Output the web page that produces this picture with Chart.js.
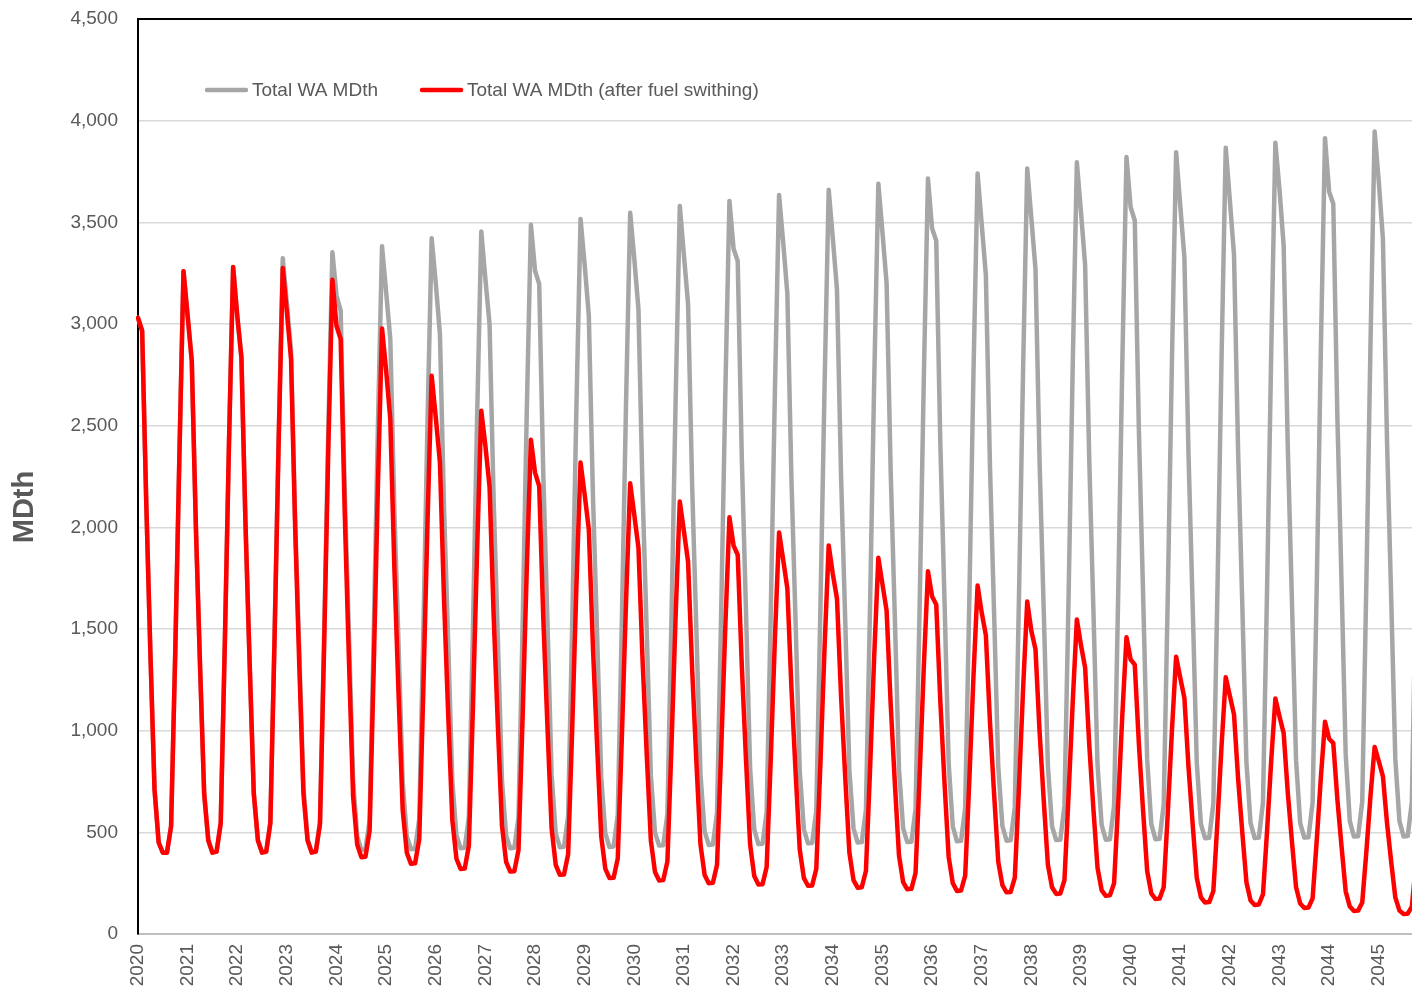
<!DOCTYPE html>
<html>
<head>
<meta charset="utf-8">
<title>Total WA MDth</title>
<script src="https://cdn.jsdelivr.net/npm/chart.js@4.4.1/dist/chart.umd.min.js"></script>
<style>
    html, body { margin: 0; padding: 0; background: #fff; overflow: hidden; }
    #wrap { position: relative; width: 1418px; height: 993px; }
</style>
</head>
<body>
<div id="wrap"><canvas id="mdthChart"></canvas></div>
<script>
// ── Data ──────────────────────────────────────────────────────────────

const years  = ['2020', '2021', '2022', '2023', '2024', '2025', '2026', '2027', '2028',
                '2029', '2030', '2031', '2032', '2033', '2034', '2035', '2036', '2037',
                '2038', '2039', '2040', '2041', '2042', '2043', '2044', '2045'];
const months = ['01', '02', '03', '04', '05', '06', '07', '08', '09', '10', '11', '12'];

const seriesNames = ['Total WA MDth', 'Total WA MDth (after fuel swithing)'];
const axisTitle   = 'MDth';
const yMax  = 4500;
const yStep = 500;

// monthly, Jan 2020 .. Oct 2045 (one row per year)
const totalWA = [
    3030, 2967, 2120, 1380, 710, 450, 400, 400, 530, 1380, 2345, 3260,
    3040, 2820, 2000, 1320, 690, 460, 400, 405, 545, 1435, 2415, 3280,
    3040, 2836, 2010, 1330, 690, 460, 402, 405, 550, 1455, 2445, 3323,
    3100, 2870, 2030, 1390, 725, 465, 405, 407, 550, 1465, 2470, 3353,
    3140, 3066, 2165, 1475, 760, 480, 414, 416, 560, 1480, 2490, 3382,
    3156, 2926, 2075, 1420, 745, 480, 417, 419, 565, 1500, 2520, 3422,
    3200, 2950, 2090, 1435, 750, 485, 422, 424, 575, 1515, 2545, 3455,
    3220, 3000, 2125, 1455, 755, 485, 422, 424, 575, 1525, 2570, 3488,
    3262, 3197, 2255, 1535, 785, 495, 427, 429, 580, 1540, 2590, 3517,
    3290, 3041, 2155, 1475, 770, 495, 428, 430, 585, 1550, 2610, 3547,
    3320, 3074, 2175, 1490, 780, 500, 435, 437, 590, 1565, 2635, 3580,
    3337, 3098, 2195, 1500, 785, 505, 438, 440, 595, 1580, 2655, 3605,
    3370, 3310, 2335, 1590, 815, 515, 442, 444, 600, 1590, 2675, 3635,
    3400, 3150, 2230, 1530, 800, 515, 446, 448, 605, 1605, 2695, 3660,
    3420, 3170, 2245, 1540, 805, 520, 450, 452, 610, 1615, 2720, 3690,
    3450, 3200, 2265, 1550, 810, 520, 452, 454, 615, 1625, 2735, 3715,
    3470, 3410, 2405, 1640, 840, 530, 456, 458, 620, 1640, 2755, 3740,
    3490, 3240, 2295, 1570, 820, 530, 459, 461, 625, 1650, 2775, 3765,
    3520, 3270, 2315, 1585, 825, 530, 462, 464, 630, 1660, 2795, 3795,
    3550, 3290, 2330, 1595, 830, 535, 464, 466, 630, 1675, 2815, 3821,
    3575, 3509, 2475, 1685, 860, 540, 466, 468, 635, 1680, 2830, 3845,
    3583, 3328, 2355, 1615, 840, 540, 471, 473, 640, 1695, 2850, 3867,
    3607, 3340, 2365, 1620, 845, 545, 472, 474, 645, 1705, 2865, 3892,
    3660, 3386, 2395, 1640, 855, 545, 474, 476, 645, 1710, 2880, 3914,
    3650, 3591, 2535, 1725, 885, 555, 479, 481, 650, 1730, 2905, 3947,
    3700, 3419, 2420, 1655, 860, 555, 480, 482, 650, 1750,
];

const afterSwitching = [
    3030, 2967, 2120, 1380, 710, 450, 400, 400, 530, 1380, 2345, 3260,
    3040, 2820, 2000, 1320, 690, 460, 400, 405, 545, 1435, 2415, 3280,
    3040, 2836, 2010, 1330, 690, 460, 400, 405, 545, 1435, 2410, 3275,
    3057, 2828, 2000, 1320, 690, 460, 400, 405, 540, 1415, 2375, 3218,
    2990, 2926, 2060, 1350, 680, 440, 378, 380, 508, 1314, 2200, 2978,
    2770, 2532, 1790, 1180, 610, 400, 345, 348, 465, 1210, 2025, 2746,
    2540, 2320, 1640, 1080, 560, 370, 320, 322, 435, 1130, 1895, 2573,
    2400, 2200, 1560, 1030, 535, 355, 307, 309, 413, 1070, 1795, 2431,
    2269, 2203, 1550, 1020, 520, 340, 291, 293, 392, 1020, 1710, 2319,
    2160, 1990, 1410, 930, 480, 320, 275, 277, 372, 975, 1635, 2217,
    2060, 1900, 1345, 885, 460, 305, 263, 265, 356, 935, 1570, 2127,
    1980, 1830, 1295, 850, 440, 290, 250, 252, 340, 900, 1510, 2049,
    1910, 1865, 1315, 860, 440, 285, 243, 245, 330, 865, 1455, 1975,
    1840, 1700, 1205, 795, 415, 275, 237, 239, 320, 840, 1410, 1911,
    1770, 1650, 1165, 770, 400, 265, 228, 230, 310, 810, 1365, 1850,
    1720, 1590, 1125, 740, 385, 255, 220, 222, 300, 785, 1315, 1784,
    1660, 1620, 1140, 745, 380, 250, 212, 214, 287, 755, 1265, 1714,
    1580, 1470, 1040, 685, 355, 240, 205, 207, 277, 720, 1205, 1635,
    1490, 1400, 990, 655, 340, 230, 197, 199, 265, 685, 1140, 1547,
    1420, 1310, 930, 615, 325, 215, 188, 190, 250, 645, 1080, 1460,
    1350, 1325, 935, 610, 310, 200, 172, 174, 230, 600, 1005, 1364,
    1260, 1161, 820, 540, 275, 180, 155, 157, 210, 555, 930, 1263,
    1170, 1079, 760, 500, 255, 165, 143, 145, 195, 510, 855, 1158,
    1070, 988, 695, 455, 230, 150, 128, 130, 175, 460, 770, 1044,
    960, 939, 660, 430, 210, 135, 113, 115, 155, 405, 680, 920,
    850, 775, 545, 355, 180, 115, 98, 100, 135, 350,
];

// ── Look ──────────────────────────────────────────────────────────────

const FONT      = '"Liberation Sans", Arial, "Noto Sans", sans-serif';
const TEXT_GREY = '#595959';

const monthLabels = years.flatMap(y => months.map(m => `${y}-${m}`)).slice(0, totalWA.length);

// top frame line (Excel plot-area border)
const frameTop = {
    id: 'frameTop',
    afterDraw(chart) {
        const { ctx, chartArea } = chart;
        ctx.save();
        ctx.strokeStyle = '#000';
        ctx.lineWidth = 2;
        ctx.beginPath();
        ctx.moveTo(chartArea.left - 1, chartArea.top);
        ctx.lineTo(chartArea.right + 2, chartArea.top);
        ctx.stroke();
        ctx.restore();
    }
};

// legend sits inside the plot, top-left
const insideLegend = {
    id: 'insideLegend',
    afterDraw(chart) {
        const { ctx, chartArea } = chart;
        let x   = chartArea.left + 69;
        const y = chartArea.top + 71;
        ctx.save();
        ctx.font = `19px ${FONT}`;
        ctx.textBaseline = 'middle';
        chart.data.datasets.forEach(ds => {
            ctx.strokeStyle = ds.borderColor;
            ctx.lineWidth = 4.5;
            ctx.lineCap = 'round';
            ctx.beginPath();
            ctx.moveTo(x, y);
            ctx.lineTo(x + 39, y);
            ctx.stroke();
            ctx.fillStyle = TEXT_GREY;
            ctx.fillText(ds.label, x + 45, y + 1);
            x += 45 + ctx.measureText(ds.label).width + 44;
        });
        ctx.restore();
    }
};

const yTitle = {
    id: 'yTitle',
    afterDraw(chart) {
        const ctx = chart.ctx;
        ctx.save();
        ctx.translate(25, 507);
        ctx.rotate(-Math.PI / 2);
        ctx.font = `bold 29px ${FONT}`;
        ctx.fillStyle = TEXT_GREY;
        ctx.textAlign = 'center';
        ctx.textBaseline = 'middle';
        ctx.fillText(axisTitle, 0, 0);
        ctx.restore();
    }
};

// ── Chart ─────────────────────────────────────────────────────────────

new Chart(document.getElementById('mdthChart'), {
    type: 'line',
    data: {
        labels: monthLabels,
        datasets: [
            { label: seriesNames[0], data: totalWA,        borderColor: '#a6a6a6', order: 1 },
            { label: seriesNames[1], data: afterSwitching, borderColor: '#ff0000', order: 0 },
        ],
    },
    options: {
        responsive: true,
        maintainAspectRatio: false,
        animation: false,
        layout: { padding: { top: 19, right: 2, bottom: 0, left: 0 } },
        elements: {
            point: { radius: 0 },
            line: { borderWidth: 4.5, tension: 0, borderJoinStyle: 'round', borderCapStyle: 'round' },
        },
        plugins: { legend: { display: false }, tooltip: { enabled: false } },
        scales: {
            x: {
                type: 'category',
                offset: false,
                grid: { display: false, drawTicks: false },
                border: { color: '#bfbfbf', width: 2 },
                ticks: {
                    autoSkip: false,
                    minRotation: 90,
                    maxRotation: 90,
                    padding: 10,
                    color: TEXT_GREY,
                    font: { family: FONT, size: 19 },
                    callback(value) {
                        const lbl = this.getLabelForValue(value);
                        return lbl.endsWith('-01') ? lbl.slice(0, 4) : null;
                    },
                },
                afterFit(axis) { axis.height = 59; },
            },
            y: {
                min: 0,
                max: yMax,
                grid: { color: '#d9d9d9', lineWidth: 1.5, drawTicks: false },
                border: { color: '#000', width: 2 },
                ticks: {
                    stepSize: yStep,
                    padding: 20,
                    color: TEXT_GREY,
                    font: { family: FONT, size: 19 },
                    callback: v => v.toLocaleString('en-US'),
                },
                afterFit(axis) {
                    axis.width = 138;
                    axis.paddingTop = 0;      // let layout.padding decide the plot top
                    axis.paddingBottom = 0;
                },
            },
        },
    },
    plugins: [frameTop, insideLegend, yTitle],
});
</script>
</body>
</html>
